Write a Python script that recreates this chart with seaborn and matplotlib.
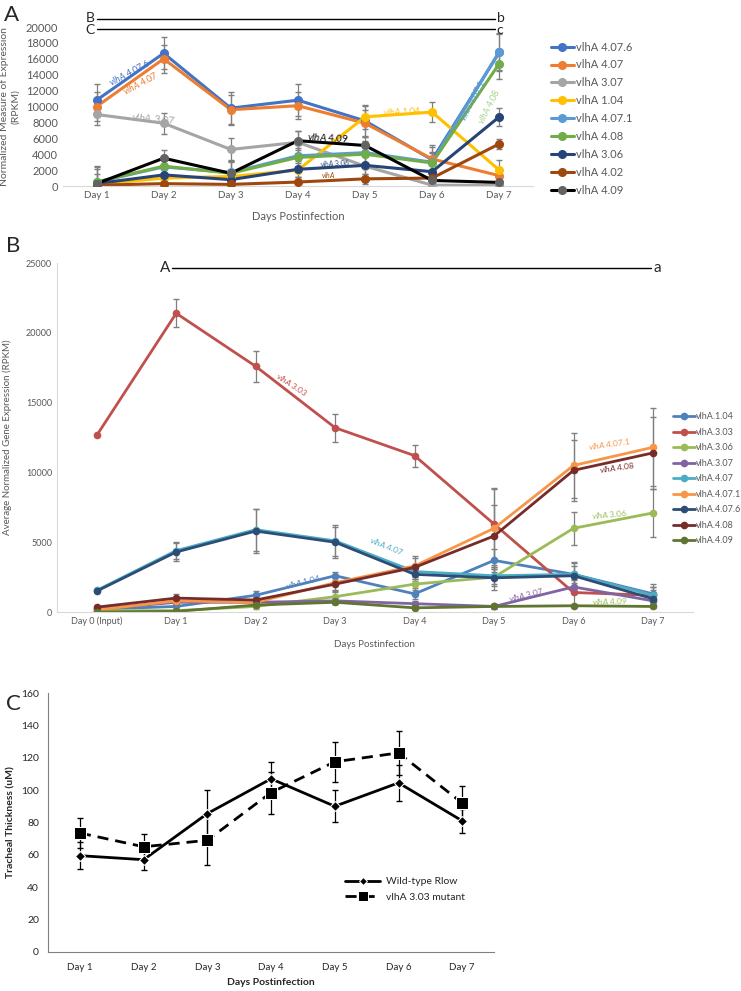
import matplotlib
matplotlib.use("Agg")
import matplotlib.pyplot as plt
import seaborn as sns
import pandas as pd
from matplotlib.lines import Line2D

# ---------------- data ----------------
days_a = ["Day 1", "Day 2", "Day 3", "Day 4", "Day 5", "Day 6", "Day 7"]
genes_a = ["vlhA 4.07.6", "vlhA 4.07", "vlhA 3.07", "vlhA 1.04", "vlhA 4.07.1",
           "vlhA 4.08", "vlhA 3.06", "vlhA 4.02", "vlhA 4.09"]
vals_a = {
    "vlhA 4.07.6": [10800, 16700, 9800, 10800, 8200, 3300, 16800],
    "vlhA 4.07":   [10000, 16000, 9600, 10100, 7900, 3400, 1300],
    "vlhA 3.07":   [9000, 7900, 4600, 5500, 2500, 100, 100],
    "vlhA 1.04":   [200, 1000, 1200, 2000, 8700, 9300, 2000],
    "vlhA 4.07.1": [500, 2400, 1700, 3800, 4200, 3000, 16900],
    "vlhA 4.08":   [500, 2500, 1600, 3600, 4000, 2900, 15400],
    "vlhA 3.06":   [300, 1400, 800, 2100, 2600, 1800, 8700],
    "vlhA 4.02":   [100, 300, 200, 500, 900, 1000, 5300],
    "vlhA 4.09":   [300, 3500, 1600, 5700, 5100, 700, 450],
}
err_a = {
    "vlhA 4.07.6": [2000, 2000, 2000, 2000, 1900, 1800, 2300],
    "vlhA 4.07":   [1800, 1800, 1900, 1700, 1700, 1500, 900],
    "vlhA 3.07":   [1300, 1300, 1400, 1400, 1300, 200, 200],
    "vlhA 1.04":   [600, 600, 600, 900, 1500, 1300, 1300],
    "vlhA 4.07.1": [1900, 1200, 1500, 1300, 1500, 1300, 2300],
    "vlhA 4.08":   [1700, 1300, 1400, 1200, 1400, 1200, 1900],
    "vlhA 3.06":   [1200, 900, 900, 1000, 1100, 1000, 1100],
    "vlhA 4.02":   [300, 300, 300, 600, 600, 400, 600],
    "vlhA 4.09":   [2200, 1000, 1700, 1200, 1100, 500, 300],
}
colors_a = ["#4472C4", "#ED7D31", "#A5A5A5", "#FFC000", "#5B9BD5",
            "#70AD47", "#264478", "#9E480E", "#000000"]
marker_a = ["#4472C4", "#ED7D31", "#A5A5A5", "#FFC000", "#5B9BD5",
            "#70AD47", "#264478", "#9E480E", "#636363"]

days_b = ["Day 0 (Input)", "Day 1", "Day 2", "Day 3", "Day 4", "Day 5", "Day 6", "Day 7"]
genes_b = ["vlhA.1.04", "vlhA.3.03", "vlhA.3.06", "vlhA.3.07", "vlhA.4.07",
           "vlhA.4.07.1", "vlhA.4.07.6", "vlhA.4.08", "vlhA.4.09"]
vals_b = {
    "vlhA.1.04":   [200, 400, 1200, 2600, 1300, 3700, 2700, 1300],
    "vlhA.3.03":   [12650, 21400, 17600, 13200, 11200, 6300, 1400, 1200],
    "vlhA.3.06":   [100, 100, 400, 1100, 2000, 2500, 6000, 7100],
    "vlhA.3.07":   [200, 700, 700, 800, 600, 400, 1800, 800],
    "vlhA.4.07":   [1550, 4400, 5900, 5100, 2900, 2600, 2700, 1200],
    "vlhA.4.07.1": [150, 800, 700, 2100, 3300, 6000, 10500, 11800],
    "vlhA.4.07.6": [1500, 4300, 5800, 5000, 2700, 2450, 2600, 950],
    "vlhA.4.08":   [350, 1000, 860, 2000, 3200, 5450, 10150, 11400],
    "vlhA.4.09":   [0, 50, 500, 700, 300, 400, 450, 400],
}
err_b = {
    "vlhA.1.04":   [0, 300, 300, 300, 400, 800, 600, 500],
    "vlhA.3.03":   [0, 1000, 1100, 1000, 800, 2500, 1000, 800],
    "vlhA.3.06":   [0, 100, 200, 300, 400, 900, 1200, 1700],
    "vlhA.3.07":   [0, 200, 200, 200, 200, 200, 500, 300],
    "vlhA.4.07":   [0, 600, 1500, 1100, 500, 600, 900, 600],
    "vlhA.4.07.1": [0, 300, 300, 500, 700, 2900, 2300, 2800],
    "vlhA.4.07.6": [0, 650, 1550, 1100, 500, 600, 900, 600],
    "vlhA.4.08":   [0, 300, 300, 500, 700, 2200, 2200, 2600],
    "vlhA.4.09":   [0, 100, 100, 100, 100, 100, 100, 100],
}
colors_b = ["#4F81BD", "#C0504D", "#9BBB59", "#8064A2", "#4BACC6",
            "#F79646", "#2C4D75", "#772C2A", "#5F7530"]

days_c = ["Day 1", "Day 2", "Day 3", "Day 4", "Day 5", "Day 6", "Day 7"]
wt_c = [59.5, 57, 85.5, 107, 90, 104.5, 81]
wt_err = [8.5, 6.5, 14.5, 10.5, 10, 11, 7.5]
mut_c = [73.5, 65, 69, 98.5, 117.5, 123, 92]
mut_err = [9, 8, 15, 13, 12.5, 13.5, 10.5]

# ---------------- style ----------------
sns.set_style("white")
plt.rcParams["font.family"] = ["Lato", "DejaVu Sans"]
plt.rcParams["mathtext.fontset"] = "custom"
plt.rcParams["mathtext.it"] = "Lato:italic"
plt.rcParams["mathtext.rm"] = "Lato"
GRAY = "#595959"
ERR = "#7F7F7F"

fig = plt.figure(figsize=(7.41, 9.91), dpi=100)


def long_df(vals, genes, days):
    rows = []
    for g in genes:
        for i, v in enumerate(vals[g]):
            rows.append({"gene": g, "pos": i, "day": days[i], "value": v})
    return pd.DataFrame(rows)


def excel_axes(ax, left_spine):
    for s in ["top", "right"]:
        ax.spines[s].set_visible(False)
    ax.spines["bottom"].set_color("#D9D9D9")
    ax.spines["left"].set_color("#D9D9D9")
    ax.spines["left"].set_visible(left_spine)
    ax.tick_params(length=0, colors=GRAY)


# ---------------- panel A ----------------
axA = fig.add_axes([0.085, 0.8123, 0.634, 0.1604])
dfA = long_df(vals_a, genes_a, days_a)
for i, g in enumerate(genes_a):
    axA.errorbar(range(len(days_a)), vals_a[g], yerr=err_a[g], fmt="none",
                 ecolor=ERR, elinewidth=0.9, capsize=2, zorder=1)
sns.lineplot(data=dfA, x="pos", y="value", hue="gene", hue_order=genes_a,
             palette=colors_a, lw=2.2, legend=False, ax=axA, zorder=2)
for i, g in enumerate(genes_a):
    axA.plot(range(len(days_a)), vals_a[g], "o", ms=5.5, color=marker_a[i],
             zorder=3)
axA.set_xlim(-0.5, 6.5)
axA.set_ylim(0, 20000)
axA.set_yticks(range(0, 20001, 2000))
axA.set_xticks(range(len(days_a)))
axA.set_xticklabels(days_a, fontsize=7)
axA.tick_params(axis="y", labelsize=8)
axA.set_xlabel("Days Postinfection", fontsize=8, color=GRAY, labelpad=8)
axA.set_ylabel("Normalized Measure of Expression\n(RPKM)", fontsize=7.5,
               color=GRAY, labelpad=4, linespacing=1.3)
excel_axes(axA, False)

axA.plot([0, 5.93], [21000, 21000], color="black", lw=1, clip_on=False)
axA.plot([0, 5.93], [19750, 19750], color="black", lw=1, clip_on=False)
axA.text(-0.03, 21100, "B", ha="right", va="center", fontsize=10)
axA.text(5.96, 21100, "b", ha="left", va="center", fontsize=10)
axA.text(-0.03, 19650, "C", ha="right", va="center", fontsize=10)
axA.text(5.96, 19650, "c", ha="left", va="center", fontsize=10)

lab_a = [
    (0.5, 14300, r"$\it{vlhA}$ 4.07.6", "#4472C4", 28, 6.5),
    (0.65, 13000, r"$\it{vlhA}$ 4.07", "#ED7D31", 28, 6.5),
    (0.85, 8500, r"$\it{vlhA}$ 3.07", "#A5A5A5", -5, 7.5),
    (3.45, 6050, r"$\it{vlhA}$ 4.09", "#000000", -3, 7),
    (3.55, 2900, r"$\it{vlhA}$ 3.06", "#264478", 3, 5),
    (3.45, 1350, r"$\it{vlhA}$", "#9E480E", 0, 5),
    (4.55, 9400, r"$\it{vlhA}$ 1.04", "#FFC000", 3, 6.5),
    (5.6, 10800, r"$\it{vlhA}$ 4.07.1", "#5B9BD5", 63, 6.5),
    (5.85, 10000, r"$\it{vlhA}$ 4.08", "#A9D18E", 63, 6.5),
]
for x, y, t, c, r, fs in lab_a:
    axA.text(x, y, t, color=c, rotation=r, fontsize=fs, ha="center",
             va="center")

hA = [Line2D([0], [0], color=colors_a[i], lw=2.2, marker="o", ms=5.5,
             markerfacecolor=marker_a[i], markeredgecolor=marker_a[i])
      for i in range(len(genes_a))]
fig.legend(hA, genes_a, loc="upper left", bbox_to_anchor=(0.7355, 0.9637),
           frameon=False, fontsize=8, handlelength=2.1, handletextpad=0.15,
           labelspacing=0.62, borderpad=0, labelcolor=GRAY)
fig.text(0.005, 0.985, "A", fontsize=16, va="center")

# ---------------- panel B ----------------
axB = fig.add_axes([0.0769, 0.3824, 0.858, 0.3522])
dfB = long_df(vals_b, genes_b, days_b)
for i, g in enumerate(genes_b):
    axB.errorbar(range(len(days_b)), vals_b[g], yerr=err_b[g], fmt="none",
                 ecolor=ERR, elinewidth=0.9, capsize=2, zorder=1)
sns.lineplot(data=dfB, x="pos", y="value", hue="gene", hue_order=genes_b,
             palette=colors_b, lw=2, marker="o", ms=5.5, markeredgewidth=0,
             legend=False, ax=axB, zorder=2)
axB.set_xlim(-0.5, 7.5)
axB.set_ylim(0, 25000)
axB.set_yticks(range(0, 25001, 5000))
axB.set_xticks(range(len(days_b)))
axB.set_xticklabels(days_b, fontsize=6.5)
axB.tick_params(axis="y", labelsize=6.5)
axB.set_xlabel("Days Postinfection", fontsize=7, color=GRAY, labelpad=10)
axB.set_ylabel("Average Normalized Gene Expression (RPKM)", fontsize=7,
               color=GRAY, labelpad=10)
excel_axes(axB, True)

axB.plot([0.95, 6.97], [24650, 24650], color="black", lw=1, clip_on=False)
axB.text(0.92, 24650, "A", ha="right", va="center", fontsize=11)
axB.text(7.0, 24650, "a", ha="left", va="center", fontsize=11)

lab_b = [
    (2.45, 16300, r"$\it{vlhA}$ 3.03", "#C0504D", -33, 6),
    (3.65, 4700, r"$\it{vlhA}$ 4.07", "#4BACC6", -22, 6),
    (2.6, 2150, r"$\it{vlhA}$ 1.04", "#4F81BD", 14, 6),
    (6.45, 12000, r"$\it{vlhA}$ 4.07.1", "#F79646", 8, 6),
    (6.55, 10350, r"$\it{vlhA}$ 4.08", "#772C2A", 8, 6),
    (6.45, 7000, r"$\it{vlhA}$ 3.06", "#9BBB59", 5, 6),
    (5.4, 1250, r"$\it{vlhA}$ 3.07", "#8064A2", 14, 6),
    (6.45, 750, r"$\it{vlhA}$ 4.09", "#9BBB59", 2, 6),
]
for x, y, t, c, r, fs in lab_b:
    axB.text(x, y, t, color=c, rotation=r, fontsize=fs, ha="center",
             va="center")

hB = [Line2D([0], [0], color=colors_b[i], lw=2, marker="o", ms=5.5,
             markeredgewidth=0) for i in range(len(genes_b))]
fig.legend(hB, genes_b, loc="upper left", bbox_to_anchor=(0.9015, 0.5885),
           frameon=False, fontsize=6.5, handlelength=2.5, handletextpad=0.1,
           labelspacing=0.72, borderpad=0, labelcolor=GRAY)
fig.text(0.008, 0.752, "B", fontsize=16, va="center")

# ---------------- panel C ----------------
axC = fig.add_axes([0.0648, 0.0394, 0.602, 0.2613])
dfC = pd.DataFrame({
    "pos": list(range(len(days_c))) * 2,
    "value": wt_c + mut_c,
    "strain": ["Wild-type Rlow"] * len(days_c) + ["vlhA 3.03 mutant"] * len(days_c),
})
axC.errorbar(range(len(days_c)), wt_c, yerr=wt_err, fmt="none", ecolor="black",
             elinewidth=0.9, capsize=2.5, zorder=1)
axC.errorbar(range(len(days_c)), mut_c, yerr=mut_err, fmt="none",
             ecolor="black", elinewidth=0.9, capsize=2.5, zorder=1)
sns.lineplot(data=dfC, x="pos", y="value", style="strain",
             style_order=["Wild-type Rlow", "vlhA 3.03 mutant"],
             markers={"Wild-type Rlow": "D", "vlhA 3.03 mutant": "s"},
             dashes={"Wild-type Rlow": "", "vlhA 3.03 mutant": (4, 2.5)},
             color="black", lw=2, ax=axC, zorder=2)
for ln in axC.lines:
    if ln.get_marker() == "D":
        ln.set_markersize(5)
    elif ln.get_marker() == "s":
        ln.set_markersize(8)
axC.set_xlim(-0.5, 6.5)
axC.set_ylim(0, 160)
axC.set_yticks(range(0, 161, 20))
axC.set_xticks(range(len(days_c)))
axC.set_xticklabels(days_c, fontsize=7)
axC.set_xticks([i - 0.5 for i in range(len(days_c) + 1)], minor=True)
axC.tick_params(axis="x", which="major", length=0, pad=8)
axC.tick_params(axis="x", which="minor", length=3, direction="out",
                color="#808080")
axC.tick_params(axis="y", labelsize=7.5, length=3, direction="out",
                color="#808080")
for s in ["top", "right"]:
    axC.spines[s].set_visible(False)
axC.spines["left"].set_color("#808080")
axC.spines["bottom"].set_color("#808080")
axC.set_xlabel("Days Postinfection", fontsize=7.5, fontweight="bold",
               labelpad=4)
axC.set_ylabel("Tracheal Thickness (uM)", fontsize=7.5, fontweight="bold",
               labelpad=4)
leg = axC.legend(loc="upper left", bbox_to_anchor=(0.655, 0.31), frameon=False,
                 fontsize=7.5, handlelength=3.3, handletextpad=0.6,
                 labelspacing=0.6, borderpad=0)
for h in leg.legend_handles:
    if h.get_marker() == "D":
        h.set_markersize(4.5)
    elif h.get_marker() == "s":
        h.set_markersize(7)
fig.text(0.008, 0.29, "C", fontsize=16, va="center")

fig.savefig("out.png", dpi=100)
